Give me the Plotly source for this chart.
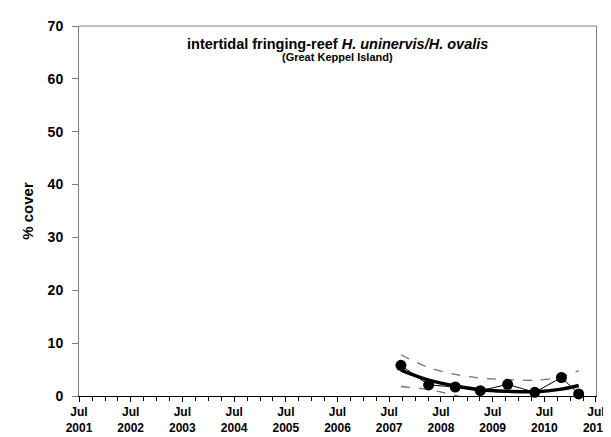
import plotly.graph_objects as go

# Data
survey_dates = ["2007-09-22", "2008-04-05", "2008-10-10", "2009-04-05",
                "2009-10-15", "2010-04-25", "2010-10-30", "2011-03-01"]
cover = [5.8, 2.1, 1.7, 1.0, 2.2, 0.7, 3.5, 0.4]
trend = [4.9, 3.0, 1.9, 1.2, 0.9, 0.8, 1.3, 2.0]
upper_ci = [7.8, 5.4, 4.1, 3.4, 3.1, 3.0, 3.6, 4.8]
lower_ci = [1.8, 1.2, 0.1, -1.0, -1.6, -1.7, -1.2, -0.4]
tick_years = list(range(2001, 2012))
tick_vals = [f"{y}-07-01" for y in tick_years]
tick_text = [f"Jul<br>{y}" for y in tick_years]

FONT = "Liberation Sans, Arial, sans-serif"
band_color = "#5b7d7d"

fig = go.Figure()
fig.add_trace(go.Scatter(x=survey_dates, y=upper_ci, mode="lines",
                         line=dict(color=band_color, width=1.3, dash="dash", shape="spline"),
                         showlegend=False, hoverinfo="skip"))
fig.add_trace(go.Scatter(x=survey_dates, y=lower_ci, mode="lines",
                         line=dict(color=band_color, width=1.3, dash="dash", shape="spline"),
                         showlegend=False, hoverinfo="skip"))
fig.add_trace(go.Scatter(x=survey_dates, y=trend, mode="lines",
                         line=dict(color="black", width=3.5, shape="spline"),
                         showlegend=False))
fig.add_trace(go.Scatter(x=survey_dates, y=cover, mode="lines+markers",
                         line=dict(color="black", width=1),
                         marker=dict(color="black", size=11),
                         showlegend=False, cliponaxis=False))

fig.update_layout(
    width=611, height=437,
    margin=dict(l=71, r=10, t=15, b=44),
    plot_bgcolor="white", paper_bgcolor="white",
    font=dict(family=FONT, color="black"),
    showlegend=False,
)
fig.update_xaxes(
    type="date", range=["2001-07-01", "2011-07-01 06:00"],
    tickmode="array", tickvals=tick_vals, ticktext=tick_text,
    ticks="outside", ticklen=5, tickwidth=1, tickcolor="black",
    minor=dict(dtick="M3", tick0="2001-07-01", ticks="outside", ticklen=4,
               tickcolor="black", showgrid=False),
    showline=True, linecolor="black", linewidth=1,
    showgrid=False, zeroline=False, ticklabeloverflow="allow",
    tickfont=dict(family=FONT, size=12, color="black", weight="bold"),
)
fig.update_yaxes(
    range=[0, 70], dtick=10, tick0=0,
    ticks="outside", ticklen=6, tickcolor="#808080",
    showline=True, linecolor="#808080", linewidth=1, mirror=True,
    showgrid=False, zeroline=False, ticklabelstandoff=6,
    tickfont=dict(family=FONT, size=14, color="black", weight="bold"),
    title=dict(text="% cover", font=dict(family=FONT, size=15, color="black", weight="bold"),
               standoff=10),
)
fig.add_shape(type="line", xref="paper", yref="paper", x0=0, x1=1, y0=1, y1=1,
              line=dict(color="#808080", width=1))
fig.add_annotation(text="intertidal fringing-reef <i>H. uninervis/H. ovalis</i>",
                   xref="paper", yref="paper", x=0.5, y=0.952, yanchor="middle",
                   showarrow=False,
                   font=dict(family=FONT, size=14.5, color="black", weight="bold"))
fig.add_annotation(text="(Great Keppel Island)",
                   xref="paper", yref="paper", x=0.5, y=0.915, yanchor="middle",
                   showarrow=False,
                   font=dict(family=FONT, size=11, color="black", weight="bold"))

fig.write_html("out.html")
